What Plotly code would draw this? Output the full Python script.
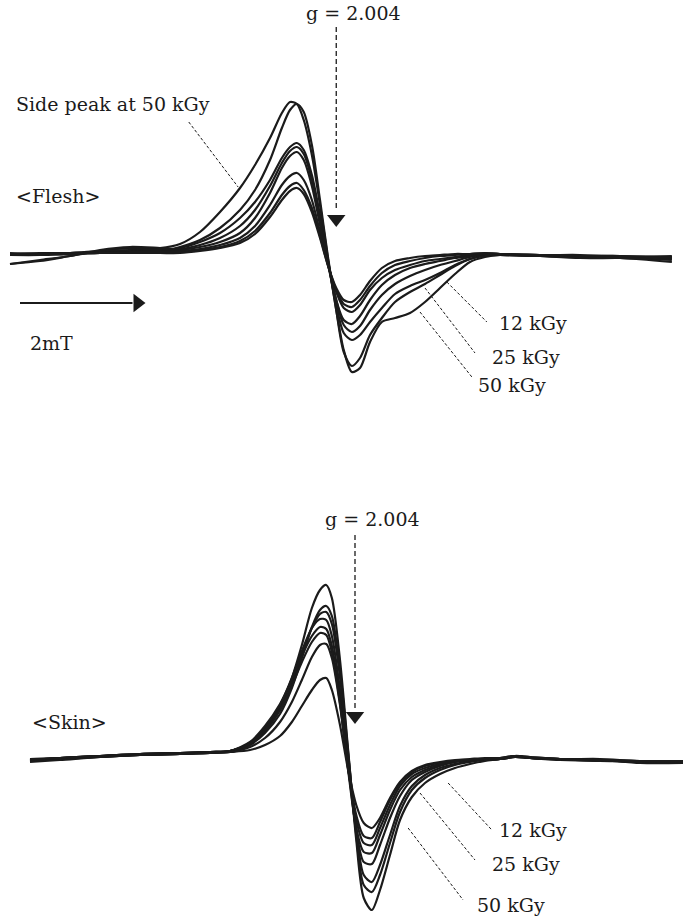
import plotly.graph_objects as go

# ---------------------------------------------------------------
# ESR derivative spectra of irradiated samples (arbitrary units)
# field axis: mT from the start of the sweep
# ---------------------------------------------------------------
field_flesh = [0.16, 0.64, 1.12, 1.60, 2.08, 2.56, 2.88, 3.20, 3.52, 3.84, 4.08, 4.32,
               4.51, 4.64, 4.75, 4.86, 4.99, 5.12, 5.25, 5.38, 5.50, 5.63, 5.76, 5.92,
               6.11, 6.32, 6.56, 6.80, 7.04, 7.28, 7.52, 7.76, 8.00, 8.64, 9.28, 9.92, 10.75]

flesh_50a = [-11, -8, -3, 2, 5, 5, 9, 21, 41, 65, 88, 115, 140, 151, 149, 133, 98, 48, -7, -57,
             -97, -119, -115, -89, -69, -65, -60, -49, -35, -21, -9, -4, -2, -3, -4, -4, -5]
flesh_50b = [-1, -1, 0, 1, 2, 2, 6, 13, 25, 43, 63, 93, 125, 143, 149, 141, 108, 53, -5, -57,
             -99, -113, -105, -82, -65, -49, -39, -31, -22, -13, -6, -2, -2, -3, -3, -5, -7]
flesh_25a = [-1, 0, 0, 2, 3, 3, 5, 11, 20, 35, 51, 73, 95, 106, 110, 103, 78, 38, -9, -52,
             -80, -87, -82, -69, -55, -41, -33, -27, -20, -12, -6, -3, -2, -2, -3, -4, -4]
flesh_25b = [-11, -7, -3, 3, 6, 5, 4, 8, 15, 27, 43, 67, 90, 102, 106, 99, 73, 33, -9, -47,
             -72, -79, -73, -57, -42, -31, -23, -17, -12, -8, -4, -1, -2, -3, -4, -5, -9]
flesh_12a = [0, -1, -1, 1, 2, 2, 3, 6, 11, 20, 35, 60, 85, 97, 101, 93, 67, 28, -12, -47,
             -67, -71, -63, -47, -32, -22, -15, -11, -8, -5, -3, -1, -1, -2, -3, -3, -4]
flesh_12b = [-2, -2, -1, 0, 1, 1, 2, 4, 8, 15, 27, 48, 68, 77, 80, 73, 53, 21, -12, -39,
             -55, -59, -52, -37, -25, -17, -12, -8, -6, -4, -2, -1, -1, -3, -5, -5, -6]
flesh_0a = [-1, -1, 0, 0, 1, 1, 1, 3, 6, 12, 22, 40, 58, 67, 70, 63, 45, 17, -13, -37,
            -51, -54, -47, -33, -20, -12, -8, -5, -3, -2, -1, 0, -1, -2, -3, -4, -3]
flesh_0b = [-2, -1, -1, 0, 0, 0, 0, 2, 5, 10, 19, 36, 53, 62, 65, 59, 41, 15, -13, -35,
            -47, -49, -42, -28, -15, -8, -5, -3, -2, -1, -1, 0, -1, -2, -2, -3, -5]

field_skin = [0.48, 0.96, 1.60, 2.24, 2.88, 3.36, 3.68, 4.00, 4.24, 4.48, 4.67, 4.83,
              4.99, 5.12, 5.22, 5.31, 5.44, 5.57, 5.70, 5.82, 5.95, 6.08, 6.24, 6.40,
              6.59, 6.80, 7.04, 7.28, 7.52, 7.76, 8.00, 8.24, 8.48, 8.96, 9.60, 10.24, 10.93]

skin_1 = [-5, -3, -1, 1, 2, 3, 4, 11, 25, 47, 77, 110, 147, 165, 170, 157, 95, 5, -85, -143,
          -155, -135, -100, -65, -42, -28, -19, -13, -9, -6, -4, -1, -3, -4, -5, -7, -7]
skin_2 = [-6, -4, -2, 0, 2, 3, 3, 10, 22, 41, 67, 97, 128, 145, 149, 139, 85, 3, -80, -130,
          -137, -120, -88, -57, -35, -23, -15, -10, -7, -5, -4, -2, -3, -5, -6, -6, -8]
skin_3 = [-4, -3, -1, 1, 2, 3, 4, 11, 24, 45, 71, 101, 127, 141, 143, 131, 78, 0, -75, -120,
          -127, -110, -80, -51, -31, -20, -13, -9, -6, -5, -4, -1, -2, -4, -4, -6, -6]
skin_4 = [-7, -5, -2, 0, 1, 2, 4, 12, 27, 50, 77, 104, 127, 136, 135, 119, 65, -10, -75, -107,
          -109, -90, -63, -41, -25, -17, -11, -7, -5, -4, -3, -1, -3, -4, -5, -8, -8]
skin_5 = [-5, -3, -1, 1, 2, 3, 4, 13, 29, 51, 75, 99, 119, 128, 126, 109, 55, -15, -73, -97,
          -98, -80, -55, -35, -22, -15, -10, -7, -5, -4, -4, -2, -3, -4, -6, -6, -7]
skin_6 = [-6, -4, -2, 0, 1, 3, 4, 11, 25, 45, 69, 93, 113, 122, 120, 103, 52, -13, -65, -88,
          -90, -73, -50, -31, -19, -13, -9, -6, -5, -4, -4, -1, -3, -4, -5, -7, -7]
skin_7 = [-4, -3, -1, 1, 2, 2, 3, 8, 17, 33, 53, 75, 98, 110, 111, 97, 50, -13, -60, -81,
          -83, -67, -45, -28, -17, -11, -8, -6, -5, -4, -4, -2, -3, -4, -5, -6, -7]
skin_8 = [-5, -3, -1, 0, 1, 2, 3, 5, 10, 19, 33, 49, 65, 75, 77, 65, 30, -15, -50, -68,
          -73, -63, -43, -27, -16, -10, -7, -5, -4, -3, -3, -1, -2, -4, -5, -6, -6]

flesh_spectra = [flesh_50a, flesh_50b, flesh_25a, flesh_25b, flesh_12a, flesh_12b, flesh_0a, flesh_0b]
skin_spectra = [skin_1, skin_2, skin_3, skin_4, skin_5, skin_6, skin_7, skin_8]

# ---------------------------------------------------------------
# annotation anchors (field mT, signal a.u.)
# ---------------------------------------------------------------
SWEEP_END = 10.928
FLESH_RANGE = [-205, 253]
SKIN_RANGE = [-161, 297]

g_field_flesh = 5.38
g_field_skin = 5.68
g_text = "g = 2.004"

INK = "#1b1b1b"
FONT = dict(family="DejaVu Serif, Liberation Serif, serif", size=19, color=INK)

fig = go.Figure()

line_style = dict(color=INK, width=2.2, shape="spline", smoothing=0.8)

for sig in flesh_spectra:
    fig.add_trace(go.Scatter(x=field_flesh, y=sig, mode="lines", line=line_style,
                             xaxis="x", yaxis="y", showlegend=False, hoverinfo="skip"))
for sig in skin_spectra:
    fig.add_trace(go.Scatter(x=field_skin, y=sig, mode="lines", line=line_style,
                             xaxis="x2", yaxis="y2", showlegend=False, hoverinfo="skip"))

shapes = []
annotations = []


def dashed(x0, y0, x1, y1, ax, width=1.0, dash="3px,2px"):
    shapes.append(dict(type="line", xref=f"x{ax}", yref=f"y{ax}", x0=x0, y0=y0, x1=x1, y1=y1,
                       line=dict(color=INK, width=width, dash=dash)))


def label(x, y, text, ax, anchor="left"):
    annotations.append(dict(x=x, y=y, xref=f"x{ax}", yref=f"y{ax}", text=text, showarrow=False,
                            xanchor=anchor, yanchor="middle", font=FONT))


# g-value markers
for ax, gx, top, tip, ty in [("", g_field_flesh, 226, 42, 240), ("2", g_field_skin, 220, 47, 236)]:
    dashed(gx, top, gx, tip, ax, width=1.3, dash="5px,3px")
    fig.add_trace(go.Scatter(x=[gx], y=[tip - 8], mode="markers",
                             marker=dict(symbol="triangle-down", size=16, color=INK),
                             xaxis=f"x{ax}", yaxis=f"y{ax}", showlegend=False, hoverinfo="skip"))
    label(gx + 0.28, ty, g_text, ax, anchor="center")

# Flesh panel texts
label(0.22, 149, "Side peak at 50 kGy", "")
dashed(3.02, 131, 3.81, 66, "")
label(0.22, 57, "&lt;Flesh&gt;", "")

# 2 mT scale arrow
shapes.append(dict(type="line", xref="x", yref="y", x0=0.32, y0=-50, x1=2.12, y1=-50,
                   line=dict(color=INK, width=2)))
fig.add_trace(go.Scatter(x=[2.2], y=[-50], mode="markers",
                         marker=dict(symbol="triangle-right", size=16, color=INK),
                         xaxis="x", yaxis="y", showlegend=False, hoverinfo="skip"))
label(0.45, -90, "2mT", "")

# dose labels, flesh
label(7.95, -70, "12 kGy", "")
dashed(7.15, -29, 7.79, -69, "")
label(7.84, -104, "25 kGy", "")
dashed(6.80, -35, 7.60, -100, "")
label(7.62, -132, "50 kGy", "")
dashed(6.72, -59, 7.55, -124, "")

# Skin panel texts
label(0.48, 33, "&lt;Skin&gt;", "2")
label(7.95, -75, "12 kGy", "2")
dashed(7.17, -28, 7.87, -75, "2")
label(7.84, -109, "25 kGy", "2")
dashed(6.72, -38, 7.60, -105, "2")
label(7.60, -150, "50 kGy", "2")
dashed(6.53, -73, 7.41, -145, "2")

hidden = dict(visible=False, showgrid=False, zeroline=False, fixedrange=True)

fig.update_layout(
    width=683, height=916,
    margin=dict(l=0, r=0, t=0, b=0),
    paper_bgcolor="white", plot_bgcolor="white",
    xaxis=dict(range=[0, SWEEP_END], domain=[0, 1], anchor="y", **hidden),
    yaxis=dict(range=FLESH_RANGE, domain=[0.5, 1], anchor="x", **hidden),
    xaxis2=dict(range=[0, SWEEP_END], domain=[0, 1], anchor="y2", **hidden),
    yaxis2=dict(range=SKIN_RANGE, domain=[0, 0.5], anchor="x2", **hidden),
    shapes=shapes,
    annotations=annotations,
    showlegend=False,
)

fig.write_html("out.html")
